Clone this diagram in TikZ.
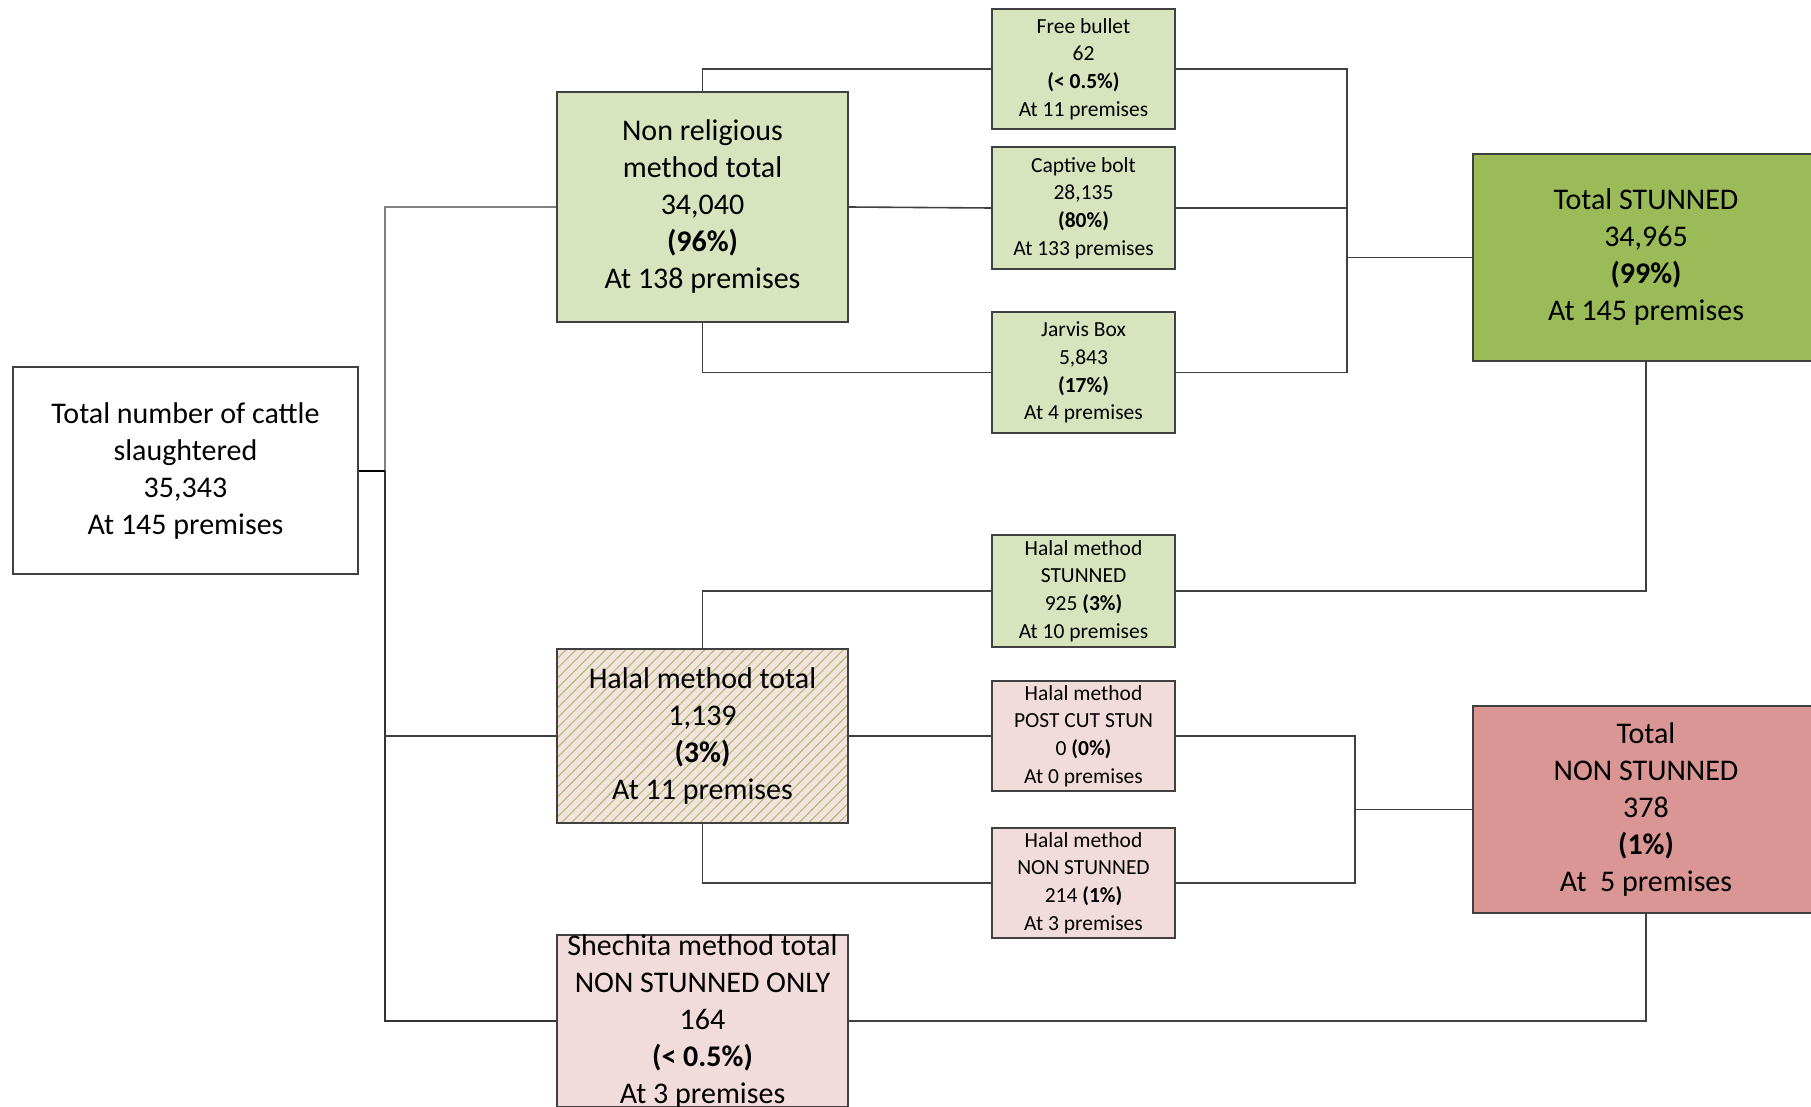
\documentclass[tikz,border=0pt]{standalone}
\usepackage{fontspec}
\setmainfont{Carlito}
\usetikzlibrary{patterns.meta}
\definecolor{greenL}{HTML}{D7E4BD}
\definecolor{greenD}{HTML}{9BBB59}
\definecolor{hatchG}{HTML}{A6C46C}
\definecolor{pinkL}{HTML}{F2DCDB}
\definecolor{pinkD}{HTML}{D99694}
\definecolor{edge}{HTML}{404040}
\begin{document}
\begin{tikzpicture}[x=1pt,y=-1pt,
  box/.style={draw=edge,line width=1.5pt,rectangle,inner sep=0pt,align=center,anchor=center},
  bigbox/.style={box,minimum width=291pt,font=\fontsize{30}{37}\selectfont},
  smallbox/.style={box,minimum width=183pt,fill=greenL,font=\fontsize{21.5}{27.7}\selectfont},
  link/.style={draw=edge,line width=1.6pt}]
\useasboundingbox (0,0) rectangle (1811,1107);
\clip (0,0) rectangle (1811,1107);
% nodes
\node[bigbox,minimum width=345pt,minimum height=207pt,fill=white] (total) at (185.5,470.5)
  {Total number of cattle\\slaughtered\\35,343\\At 145 premises};
\node[bigbox,minimum height=230pt,fill=greenL] (nonrel) at (702.5,207)
  {Non religious\\method total\\34,040\\\textbf{(96\%)}\\At 138 premises};
\node[smallbox,minimum height=120pt] (free) at (1083.5,69)
  {Free bullet\\62\\\textbf{(< 0.5\%)}\\At 11 premises};
\node[smallbox,minimum height=122pt] (captive) at (1083.5,208)
  {Captive bolt\\28,135\\\textbf{(80\%)}\\At 133 premises};
\node[smallbox,minimum height=121pt] (jarvis) at (1083.5,372.5)
  {Jarvis Box\\5,843\\\textbf{(17\%)}\\At 4 premises};
\node[bigbox,minimum width=346pt,minimum height=207pt,fill=greenD] (stun) at (1646,257.5)
  {Total STUNNED\\34,965\\\textbf{(99\%)}\\At 145 premises};
\node[smallbox,minimum height=112pt] (halalS) at (1083.5,591)
  {Halal method\\STUNNED\\925 \textbf{(3\%)}\\At 10 premises};
\node[bigbox,minimum height=174pt,fill=pinkL!85!white,
  postaction={pattern={Lines[angle=45,distance=7pt,line width=1.1pt]},pattern color=hatchG},
  postaction={draw=edge,line width=1.5pt}] (halal) at (702.5,736)
  {Halal method total\\1,139\\\textbf{(3\%)}\\At 11 premises};
\node[smallbox,fill=pinkL,minimum height=110pt] (postcut) at (1083.5,736)
  {Halal method\\POST CUT STUN\\0 \textbf{(0\%)}\\At 0 premises};
\node[smallbox,fill=pinkL,minimum height=110pt] (halalNS) at (1083.5,883)
  {Halal method\\NON STUNNED\\214 \textbf{(1\%)}\\At 3 premises};
\node[bigbox,minimum width=346pt,minimum height=207pt,fill=pinkD] (nonstun) at (1646,809.5)
  {Total\\NON STUNNED\\378\\\textbf{(1\%)}\\At\ \ 5 premises};
\node[bigbox,minimum height=172pt,fill=pinkL] (shech) at (702.5,1021) {};
\node[align=center,inner sep=0pt,font=\fontsize{30}{37}\selectfont] (shechtxt) at (shech.center)
  {Shechita method total\\NON STUNNED ONLY\\164\\\textbf{(< 0.5\%)}\\At 3 premises};
% collector coordinates
\coordinate (tk) at (385,0);
\coordinate (rc) at (1347,0);
\coordinate (rn) at (1355,0);
% connectors
\draw[link,draw=gray] (nonrel.west) -- (nonrel.west -| tk) -- (total.east -| tk);
\draw[link,draw=black!80] (total.east -| tk) -- (shech.west -| tk) -- (shech.west);
\draw[link] (halal.west) -- (halal.west -| tk);
\draw[link,draw=black,line width=2pt] (total.east) -- (total.east -| tk);
\draw[link] (nonrel.north) |- (free.west);
\draw[link] (nonrel.east) -- (captive.west);
\draw[link] (nonrel.south) |- (jarvis.west);
\draw[link] (free.east) -- (free.east -| rc) -- (jarvis.east -| rc) -- (jarvis.east);
\draw[link] (captive.east) -- (captive.east -| rc);
\draw[link] (stun.west) -- (stun.west -| rc);
\draw[link] (stun.south) |- (halalS.east);
\draw[link] (halal.north) |- (halalS.west);
\draw[link] (halal.east) -- (postcut.west);
\draw[link] (halal.south) |- (halalNS.west);
\draw[link] (postcut.east) -- (postcut.east -| rn) -- (halalNS.east -| rn) -- (halalNS.east);
\draw[link] (nonstun.west) -- (nonstun.west -| rn);
\draw[link] (nonstun.south) |- (shech.east);
\end{tikzpicture}
\end{document}
